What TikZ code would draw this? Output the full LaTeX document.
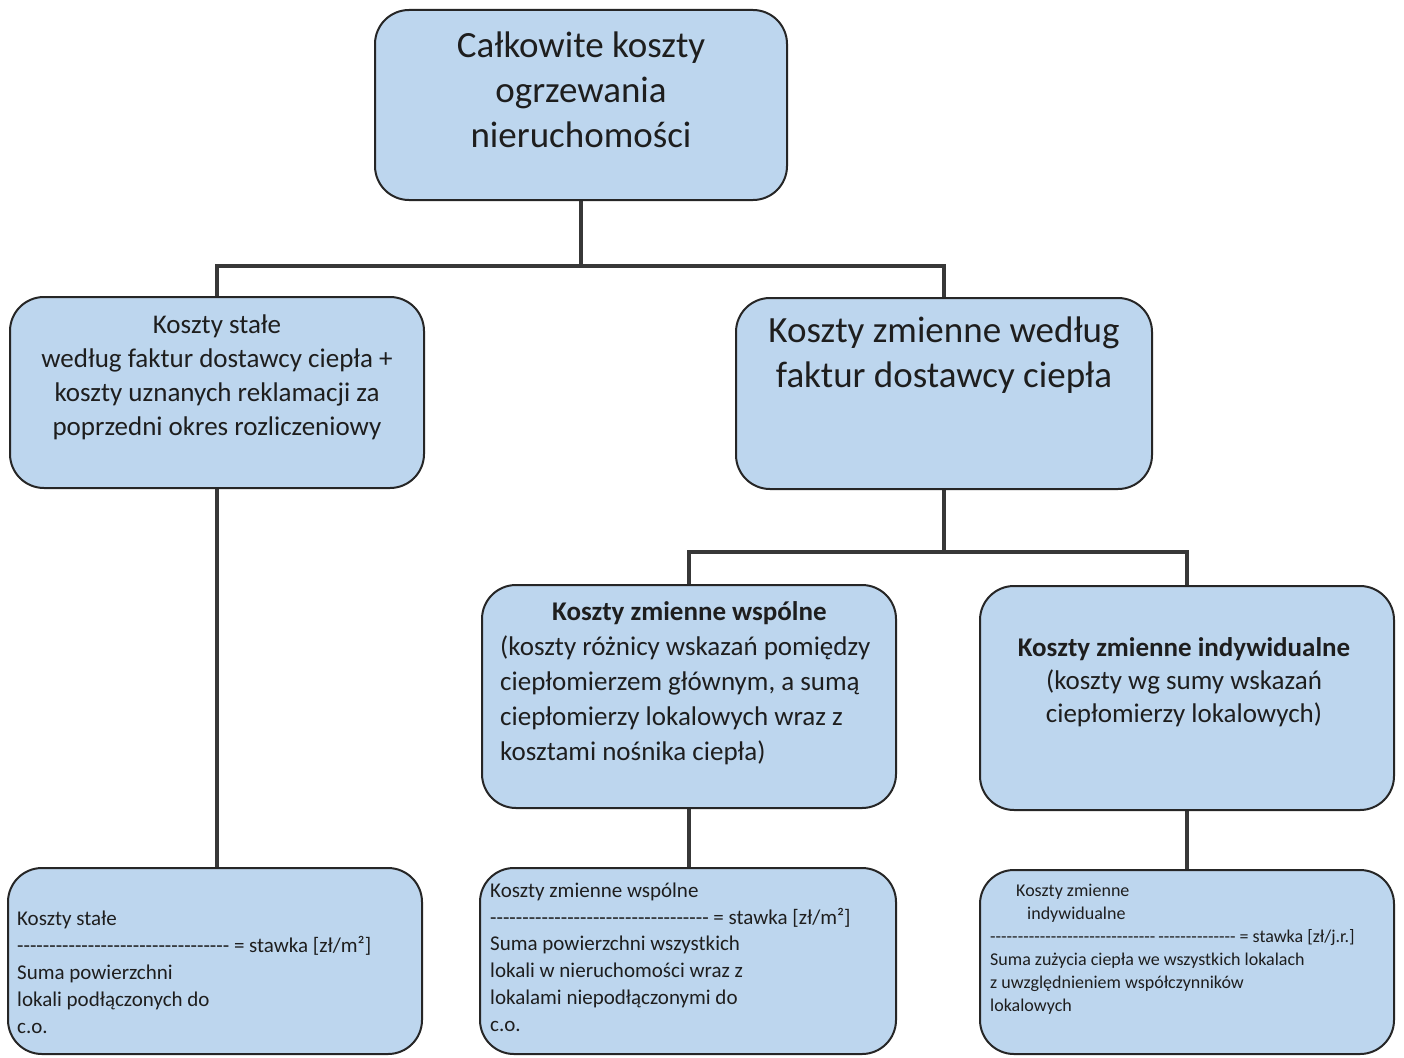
\documentclass[tikz,border=0pt]{standalone}
\usepackage{fontspec}
\newfontfamily\cfont{Carlito}
\usetikzlibrary{backgrounds}
\definecolor{boxfill}{HTML}{BDD6EE}
\definecolor{boxline}{HTML}{262626}
\definecolor{connc}{HTML}{383838}
\definecolor{txt}{HTML}{1E1E1E}
\begin{document}
\begin{tikzpicture}[x=1pt,y=-1pt,
  box/.style={draw=boxline, line width=2pt, fill=boxfill, rounded corners=34pt, inner sep=0pt},
  lbl/.style={text=txt, inner sep=0pt},
  fs/.style 2 args={font=\cfont\fontsize{#1}{#2}\selectfont},
  connector/.style={draw=connc, line width=4pt}]
\useasboundingbox (0,0) rectangle (1404,1057);

% boxes
\node[box, minimum width=412pt, minimum height=190pt] (top) at (581,105) {};
\node[box, minimum width=414pt, minimum height=191pt] (ls) at (217,392.5) {};
\node[box, minimum width=416pt, minimum height=191pt] (rs) at (944,393.5) {};
\node[box, minimum width=414pt, minimum height=223pt] (wsp) at (689,696.5) {};
\node[box, minimum width=414pt, minimum height=224pt] (ind) at (1187,698) {};
\node[box, minimum width=414pt, minimum height=186pt] (bl) at (215,961) {};
\node[box, minimum width=416pt, minimum height=186pt] (bm) at (688,961) {};
\node[box, minimum width=414pt, minimum height=184pt] (br) at (1187,962) {};

% connectors
\begin{scope}[on background layer]
\fill[white] (0,0) rectangle (1404,1057);
\coordinate (j1) at (581,266);
\coordinate (j2) at (944,552);
\draw[connector] (top.south) -- (j1);
\draw[connector] (ls.north) |- (j1) -| (rs.north);
\draw[connector] (ls.south) -- (ls.south |- bl.north);
\draw[connector] (rs.south) -- (j2);
\draw[connector] (wsp.north) |- (j2) -| (ind.north);
\draw[connector] (wsp.south) -- (wsp.south |- bm.north);
\draw[connector] (ind.south) -- (ind.south |- br.north);
\end{scope}

% texts
\node[lbl, fs={37}{45}, align=center] (ttop) at (581,90)
  {Całkowite koszty\\ogrzewania\\nieruchomości};
\node[lbl, fs={27}{34}, align=center] (tls) at (217,377)
  {Koszty stałe\\według faktur dostawcy ciepła +\\koszty uznanych reklamacji za\\poprzedni okres rozliczeniowy};
\node[lbl, fs={37}{45}, align=center] (trs) at (944,355)
  {Koszty zmienne według\\faktur dostawcy ciepła};
\node[lbl, fs={27}{35}, align=left, anchor=west] (twsp) at (500,683.5)
  {\hspace*{52pt}\textbf{Koszty zmienne wspólne}\\(koszty różnicy wskazań pomiędzy\\ciepłomierzem głównym, a sumą\\ciepłomierzy lokalowych wraz z\\kosztami nośnika ciepła)};
\node[lbl, fs={27}{33}, align=center] (tind) at (1184,682)
  {\bfseries Koszty zmienne indywidualne\\(koszty wg sumy wskazań\\ciepłomierzy lokalowych)};
\node[lbl, fs={21}{27}, align=left, anchor=west] (tbl) at (17,972.5)
  {Koszty stałe\\--------------------------------- = stawka [zł/m²]\\Suma powierzchni\\lokali podłączonych do\\c.o.};
\node[lbl, fs={21}{26.8}, align=left, anchor=west] (tbm) at (490,957)
  {Koszty zmienne wspólne\\---------------------------------- = stawka [zł/m²]\\Suma powierzchni wszystkich\\lokali w nieruchomości wraz z\\lokalami niepodłączonymi do\\c.o.};
\node[lbl, fs={18}{23}, align=left, anchor=west] (tbr) at (990,949.5)
  {\hspace*{26pt}Koszty zmienne\\\hspace*{37pt}indywidualne\\------------------------------\kern3pt-------------- = stawka [zł/j.r.]\\Suma zużycia ciepła we wszystkich lokalach\\z uwzględnieniem współczynników\\lokalowych};
\end{tikzpicture}
\end{document}
